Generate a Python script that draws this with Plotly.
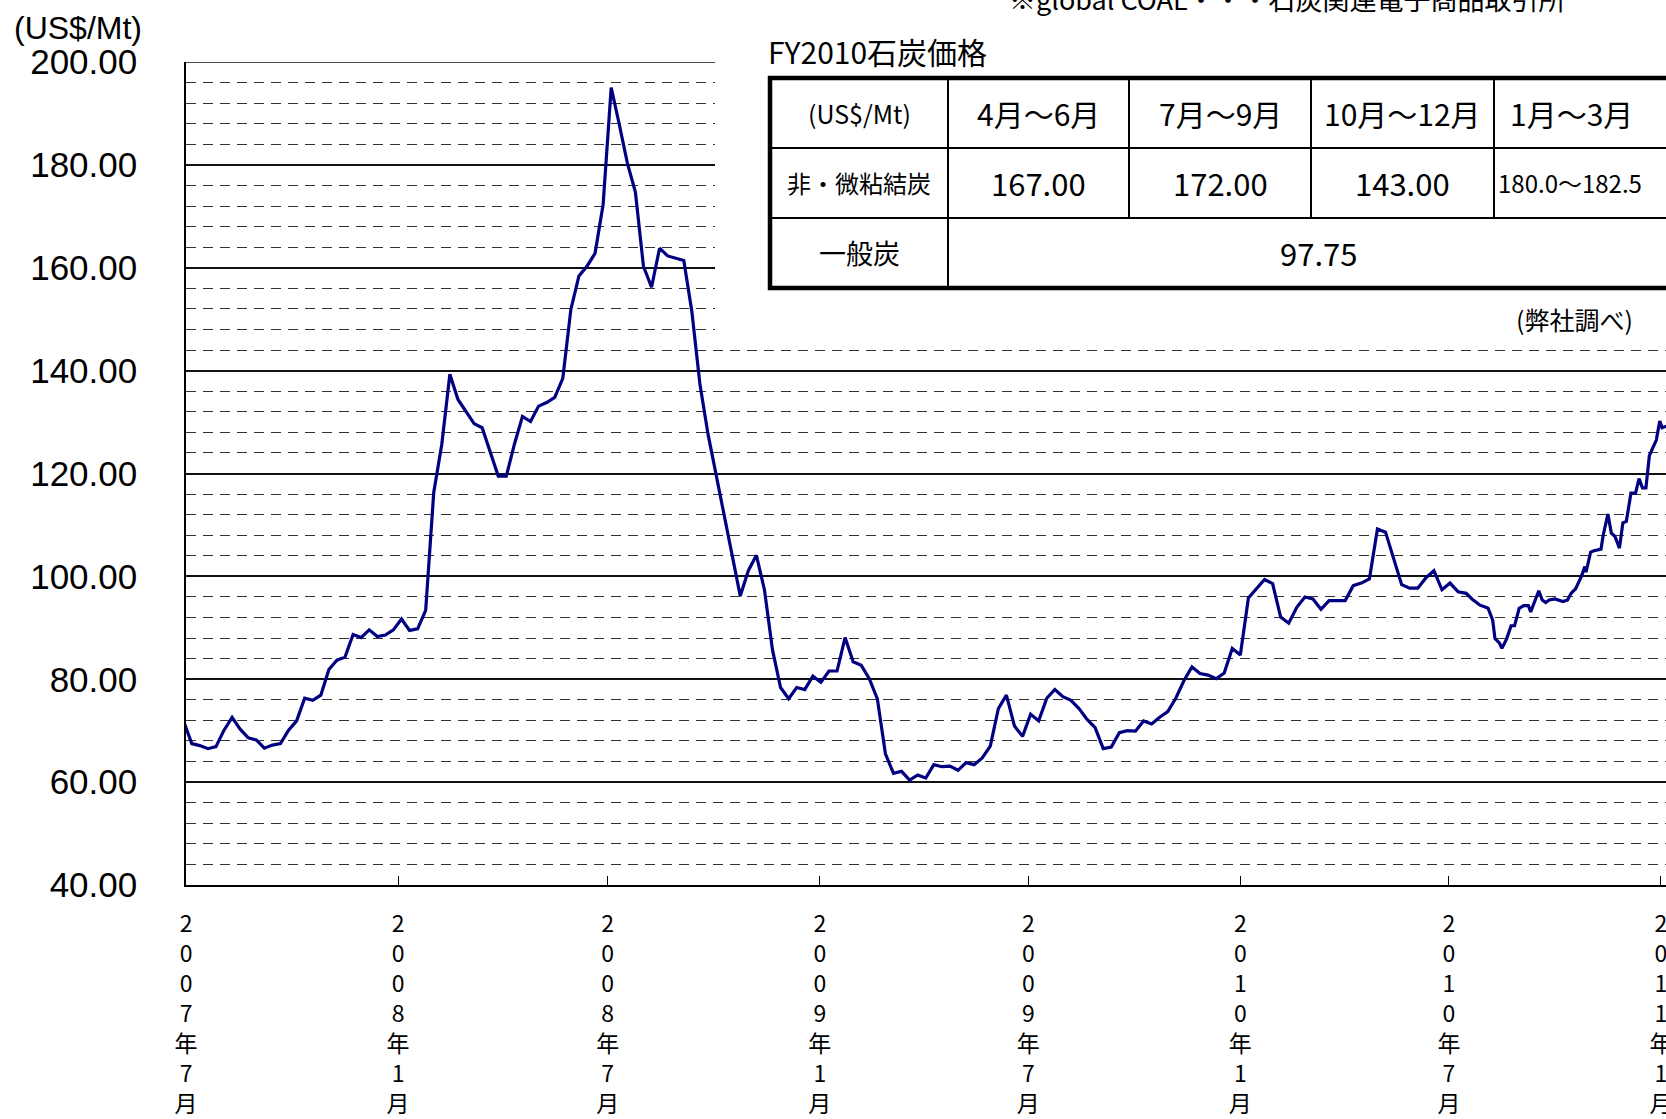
import plotly.graph_objects as go
import pandas as pd

# ---------------- data ----------------
weekly_start = "2007-06-29"
weekly_prices = [
    71.8, 67.5, 67.1, 66.5, 66.9, 70.1, 72.6, 70.3, 68.6, 68.2,
    66.6, 67.2, 67.5, 70.1, 71.9, 76.3, 75.9, 76.9, 81.9, 83.7,
    84.3, 88.7, 88.1, 89.6, 88.3, 88.6, 89.6, 91.7, 89.5, 89.8,
    93.4, 116.3, 125.7, 139.3, 134.4, 132.1, 129.7, 128.9, 124.4, 119.5,
    119.5, 125.7, 131.1, 130.1, 133.1, 133.8, 134.8, 138.5, 151.9, 158.4,
    160.3, 162.8, 172.3, 195.0, 187.9, 180.4, 174.7, 160.3, 156.2, 163.8,
    162.3, 161.8, 161.4, 151.5, 137.4, 127.7, 120.0, 111.7, 104.5, 96.2,
    101.1, 104.1, 97.4, 85.7, 78.4, 76.2, 78.4, 78.0, 80.6, 79.4,
    81.6, 81.6, 88.1, 83.4, 82.7, 80.1, 76.2, 65.5, 61.7, 62.1,
    60.4, 61.4, 60.8, 63.4, 63.0, 63.1, 62.3, 63.8, 63.4, 64.7,
    67.0, 74.3, 76.9, 70.9, 68.9, 73.2, 71.9, 76.3, 78.0, 76.6,
    75.9, 74.3, 72.2, 70.6, 66.5, 66.8, 69.6, 70.0, 69.9, 71.9,
    71.3, 72.6, 73.7, 76.3, 79.7, 82.4, 81.1, 80.8, 80.1, 81.2,
    86.0, 84.7, 95.8, 97.7, 99.4, 98.6, 92.1, 90.9, 94.0, 96.0,
    95.6, 93.6, 95.3, 95.3, 95.3, 98.2, 98.7, 99.5, 109.2, 108.6,
    103.6, 98.4, 97.7, 97.7, 99.7, 101.1, 97.4, 98.7, 97.0, 96.7,
]

recent_dates = [
    "2010-07-21", "2010-07-28", "2010-08-02", "2010-08-04", "2010-08-08",
    "2010-08-10", "2010-08-14", "2010-08-16", "2010-08-20", "2010-08-24",
    "2010-08-27", "2010-08-31", "2010-09-04", "2010-09-08", "2010-09-10",
    "2010-09-14", "2010-09-17", "2010-09-20", "2010-09-23", "2010-09-26",
    "2010-10-01", "2010-10-08", "2010-10-12", "2010-10-15", "2010-10-19",
    "2010-10-24", "2010-10-27", "2010-10-28", "2010-11-01", "2010-11-04",
    "2010-11-10", "2010-11-12", "2010-11-16", "2010-11-19", "2010-11-22",
    "2010-11-26", "2010-11-29", "2010-12-02", "2010-12-06", "2010-12-10",
    "2010-12-13", "2010-12-16", "2010-12-19", "2010-12-22", "2010-12-24",
    "2010-12-28", "2010-12-31", "2011-01-02", "2011-01-06",
]
recent_prices = [
    95.6, 94.4, 94.0, 93.8, 91.5,
    87.9, 87.0, 86.0, 87.8, 90.4,
    90.4, 93.8, 94.3, 94.3, 93.1,
    95.7, 97.2, 95.4, 94.9, 95.4,
    95.6, 95.1, 95.4, 96.7, 97.6,
    100.0, 101.9, 100.8, 104.7, 105.0,
    105.3, 108.1, 112.1, 108.4, 107.8,
    105.5, 110.4, 110.7, 116.2, 116.2,
    119.0, 117.2, 117.2, 123.5, 124.4,
    126.5, 130.2, 128.9, 129.2,
]

y_tick_values = [40, 60, 80, 100, 120, 140, 160, 180, 200]
y_tick_labels = ["40.00", "60.00", "80.00", "100.00", "120.00",
                 "140.00", "160.00", "180.00", "200.00"]

x_tick_dates = ["2007-07-01", "2008-01-01", "2008-07-01", "2009-01-01",
                "2009-07-01", "2010-01-01", "2010-07-01", "2011-01-01"]
x_tick_labels = [
    "2<br>0<br>0<br>7<br>年<br>7<br>月",
    "2<br>0<br>0<br>8<br>年<br>1<br>月",
    "2<br>0<br>0<br>8<br>年<br>7<br>月",
    "2<br>0<br>0<br>9<br>年<br>1<br>月",
    "2<br>0<br>0<br>9<br>年<br>7<br>月",
    "2<br>0<br>1<br>0<br>年<br>1<br>月",
    "2<br>0<br>1<br>0<br>年<br>7<br>月",
    "2<br>0<br>1<br>1<br>年<br>1<br>月",
]

table_header = ["(US$/Mt)", "4月～6月", "7月～9月", "10月～12月", "1月～3月"]
coking_row = ["非・微粘結炭", "167.00", "172.00", "143.00", "180.0～182.5"]
steam_row = ["一般炭", "97.75"]

# ---------------- figure ----------------
weekly_dates = [d.strftime("%Y-%m-%d") for d in
                pd.date_range(weekly_start, periods=len(weekly_prices), freq="7D")]
all_dates = weekly_dates + recent_dates
all_prices = weekly_prices + recent_prices

W, H = 1666, 1119
L, R, T, B = 186, 0, 62, 234
PW, PH = W - L - R, H - T - B


def px(x):
    return (x - L) / PW


def py(y):
    return (H - B - y) / PH


CJK = "Noto Sans CJK JP"
SANS = "Liberation Sans, Arial"

fig = go.Figure()
fig.add_trace(go.Scatter(
    x=all_dates, y=all_prices, mode="lines",
    line=dict(color="#000080", width=3.2),
    showlegend=False, hoverinfo="x+y",
))

shapes = []
annotations = []

# white panel hiding the grid behind the table
shapes.append(dict(type="rect", xref="paper", yref="paper",
                   x0=px(715), x1=px(1720), y0=py(340), y1=py(-5),
                   fillcolor="white", line=dict(width=0), layer="above"))
# top border of the plot (200 line) left of the table panel
shapes.append(dict(type="line", xref="paper", yref="y",
                   x0=0, x1=px(715), y0=200, y1=200,
                   line=dict(color="#111111", width=1.5), layer="above"))

# table geometry
tx = [770, 948, 1129, 1311, 1494, 1700]
ty = [78, 148, 218, 288]
thin = dict(color="black", width=2)
for x in tx[1:5]:
    shapes.append(dict(type="line", xref="paper", yref="paper",
                       x0=px(x), x1=px(x), y0=py(ty[0]), y1=py(ty[2]),
                       line=thin, layer="above"))
shapes.append(dict(type="line", xref="paper", yref="paper",
                   x0=px(tx[1]), x1=px(tx[1]), y0=py(ty[2]), y1=py(ty[3]),
                   line=thin, layer="above"))
for y in ty[1:3]:
    shapes.append(dict(type="line", xref="paper", yref="paper",
                       x0=px(tx[0]), x1=px(tx[-1]), y0=py(y), y1=py(y),
                       line=thin, layer="above"))
shapes.append(dict(type="rect", xref="paper", yref="paper",
                   x0=px(tx[0]), x1=px(tx[-1]), y0=py(ty[3]), y1=py(ty[0]),
                   line=dict(color="black", width=4.5), layer="above"))


def ann(text, x, y, size, xanchor="center", yanchor="middle", family=CJK):
    annotations.append(dict(text=text, x=px(x), y=py(y), xref="paper", yref="paper",
                            xanchor=xanchor, yanchor=yanchor, showarrow=False,
                            font=dict(family=family, size=size, color="black")))


row_y = [(ty[0] + ty[1]) / 2, (ty[1] + ty[2]) / 2, (ty[2] + ty[3]) / 2]
col_x = [(tx[i] + tx[i + 1]) / 2 for i in range(4)] + [1571]

ann(table_header[0], col_x[0], row_y[0], 25)
for i in range(1, 5):
    ann(table_header[i], col_x[i], row_y[0], 30)
ann(coking_row[0], col_x[0], row_y[1], 24)
for i in range(1, 4):
    ann(coking_row[i], col_x[i], row_y[1], 31)
ann(coking_row[4], 1496, row_y[1], 24, xanchor="left")
ann(steam_row[0], col_x[0], row_y[2], 27)
ann(steam_row[1], 1318, row_y[2], 31)

ann("FY2010石炭価格", 766, 51, 30, xanchor="left")
ann("※global COAL・・・石炭関連電子商品取引所", 1287, 20, 27, yanchor="bottom")
ann("(弊社調べ)", 1514, 319, 25, xanchor="left")
ann("(US$/Mt)", 12, 28, 32, xanchor="left", family=SANS)

fig.update_layout(
    width=W, height=H,
    margin=dict(l=L, r=R, t=T, b=B, pad=0, autoexpand=False),
    paper_bgcolor="white", plot_bgcolor="white",
    shapes=shapes, annotations=annotations,
    xaxis=dict(
        type="date", range=["2007-07-01", "2011-01-05 10:00"],
        tickmode="array", tickvals=x_tick_dates, ticktext=x_tick_labels,
        ticks="inside", ticklen=9, tickwidth=1, tickcolor="black",
        showline=True, linecolor="black", linewidth=1.5,
        showgrid=False, zeroline=False, tickangle=0, automargin=False,
        tickfont=dict(family=CJK, size=23, color="black"),
        ticklabelstandoff=18, ticklabeloverflow="allow",
    ),
    yaxis=dict(
        range=[40, 200], tickmode="array", tickvals=y_tick_values,
        ticktext=y_tick_labels, ticks="",
        showline=True, linecolor="black", linewidth=1.5,
        showgrid=True, gridcolor="#111111", gridwidth=1.5,
        minor=dict(tickmode="linear", tick0=40, dtick=4, showgrid=True,
                   gridcolor="#333333", gridwidth=1, griddash="10px,7px"),
        zeroline=False, automargin=False,
        tickfont=dict(family=SANS, size=35, color="black"),
        ticklabelstandoff=40,
    ),
)

fig.write_html(
    "out.html",
    config={"displayModeBar": False},
    post_script="document.body.style.margin='0';document.body.style.padding='0';"
                "document.body.style.overflow='hidden';",
)
